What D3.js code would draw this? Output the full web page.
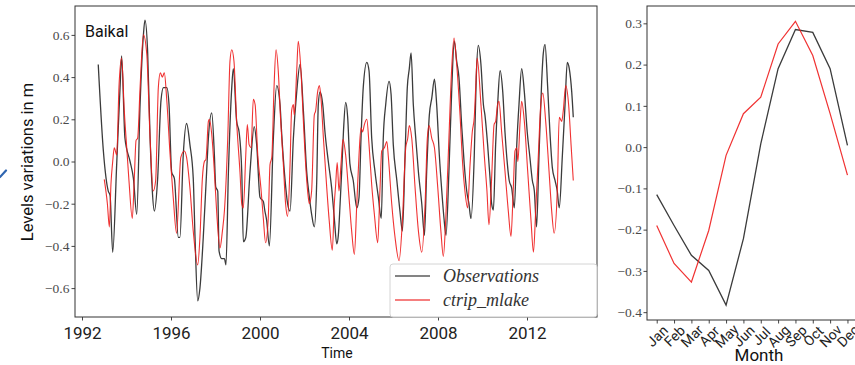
<!DOCTYPE html>
<html>
<head>
<meta charset="utf-8">
<script src="https://cdn.jsdelivr.net/npm/d3@7"></script>
<style>
  html, body { margin: 0; padding: 0; background: #fff; }
  svg { display: block; }
</style>
</head>
<body>
<svg id="chart" width="855" height="365"></svg>
<script>
// Lake Baikal water level anomalies (m): observed vs. CTRIP-MLake simulation
const obsYears = [
  1992.73,1992.96,1993.18,1993.26,1993.38,1993.56,1993.71,1993.78,1993.93,1994.16,
  1994.31,1994.46,1994.61,1994.76,1994.83,1994.95,1995.06,1995.16,1995.25,1995.40,
  1995.55,1995.66,1995.81,1995.91,1996.03,1996.15,1996.33,1996.40,1996.55,1996.70,
  1996.85,1997.00,1997.08,1997.20,1997.30,1997.45,1997.60,1997.68,1997.83,1997.95,
  1998.01,1998.10,1998.16,1998.28,1998.40,1998.47,1998.58,1998.73,1998.80,1998.95,
  1999.06,1999.18,1999.25,1999.36,1999.55,1999.74,1999.85,2000.00,2000.15,2000.22,
  2000.30,2000.42,2000.60,2000.75,2000.90,2000.97,2001.12,2001.24,2001.35,2001.50,
  2001.65,2001.80,2001.95,2002.10,2002.22,2002.32,2002.44,2002.55,2002.62,2002.70,
  2002.82,2002.92,2003.07,2003.22,2003.34,2003.45,2003.52,2003.60,2003.67,2003.75,
  2003.85,2003.94,2004.04,2004.19,2004.35,2004.45,2004.54,2004.64,2004.80,2004.90,
  2005.02,2005.17,2005.32,2005.45,2005.54,2005.65,2005.80,2005.89,2005.99,2006.15,
  2006.29,2006.40,2006.52,2006.62,2006.71,2006.79,2006.89,2007.00,2007.12,2007.27,
  2007.39,2007.49,2007.61,2007.72,2007.84,2007.94,2008.06,2008.17,2008.27,2008.36,
  2008.49,2008.62,2008.73,2008.84,2008.94,2009.07,2009.18,2009.29,2009.39,2009.48,
  2009.63,2009.72,2009.81,2009.93,2010.04,2010.11,2010.23,2010.34,2010.41,2010.49,
  2010.59,2010.68,2010.79,2010.91,2011.01,2011.12,2011.20,2011.31,2011.43,2011.54,
  2011.64,2011.76,2011.88,2012.01,2012.13,2012.24,2012.33,2012.43,2012.54,2012.66,
  2012.73,2012.81,2012.93,2013.03,2013.14,2013.26,2013.36,2013.45,2013.59,2013.71,
  2013.81,2013.90,2014.01,2014.08
];
const obsLevels = [
  0.46,0.05,-0.14,-0.16,-0.43,-0.01,0.35,0.50,0.11,0.00,
  -0.08,-0.25,0.27,0.60,0.67,0.52,0.11,-0.14,-0.235,-0.08,
  0.29,0.35,0.35,0.27,-0.05,-0.08,-0.36,-0.36,0.03,0.18,
  0.08,-0.08,-0.36,-0.66,-0.60,-0.36,-0.05,0.11,0.23,0.03,
  -0.12,-0.14,-0.425,-0.46,-0.46,-0.49,-0.05,0.35,0.44,0.19,
  0.14,-0.05,-0.38,-0.36,-0.05,0.165,0.08,-0.17,-0.19,-0.235,
  -0.28,-0.40,0.11,0.36,0.27,0.14,-0.08,-0.20,-0.235,0.11,
  0.33,0.46,0.24,-0.05,-0.17,-0.25,-0.31,-0.09,0.27,0.33,
  0.27,0.14,0.00,-0.125,-0.27,-0.39,-0.35,-0.20,-0.05,0.14,
  0.28,0.21,-0.01,-0.09,-0.22,-0.17,0.11,0.35,0.47,0.43,
  0.11,-0.05,-0.17,-0.27,0.11,0.27,0.38,0.32,0.08,-0.09,
  -0.235,-0.33,0.03,0.35,0.44,0.515,0.27,0.11,-0.05,-0.20,
  -0.35,-0.05,0.22,0.30,0.39,0.27,0.03,-0.14,-0.27,-0.35,
  -0.05,0.35,0.57,0.475,0.40,0.16,-0.015,-0.14,-0.20,-0.27,
  0.03,0.40,0.55,0.46,0.27,0.22,0.08,-0.08,-0.20,-0.23,
  0.08,0.27,0.43,0.33,0.14,-0.015,-0.09,-0.125,-0.22,0.08,
  0.27,0.44,0.33,0.14,0.02,-0.09,-0.14,-0.31,0.03,0.38,
  0.51,0.555,0.35,0.14,-0.03,-0.09,-0.14,-0.22,0.03,0.27,
  0.47,0.44,0.33,0.21
];
const simYears = [
  1993.00,1993.14,1993.23,1993.30,1993.38,1993.45,1993.56,1993.66,1993.78,1993.90,
  1994.01,1994.11,1994.26,1994.35,1994.43,1994.50,1994.61,1994.76,1994.91,1995.06,
  1995.20,1995.31,1995.43,1995.52,1995.61,1995.70,1995.81,1995.96,1996.10,1996.25,
  1996.44,1996.60,1996.70,1996.85,1997.00,1997.20,1997.30,1997.41,1997.50,1997.57,
  1997.68,1997.72,1997.83,1997.95,1998.05,1998.20,1998.31,1998.40,1998.55,1998.65,
  1998.73,1998.83,1998.95,1999.10,1999.18,1999.25,1999.36,1999.43,1999.51,1999.60,
  1999.70,1999.78,1999.90,2000.04,2000.15,2000.25,2000.37,2000.45,2000.53,2000.63,
  2000.72,2000.82,2000.92,2001.05,2001.15,2001.24,2001.35,2001.42,2001.50,2001.54,
  2001.65,2001.72,2001.84,2001.95,2002.07,2002.17,2002.22,2002.32,2002.44,2002.50,
  2002.59,2002.67,2002.74,2002.85,2003.00,2003.11,2003.25,2003.34,2003.40,2003.47,
  2003.55,2003.64,2003.73,2003.85,2004.00,2004.12,2004.24,2004.35,2004.45,2004.54,
  2004.61,2004.69,2004.80,2004.90,2005.02,2005.14,2005.29,2005.39,2005.47,2005.59,
  2005.70,2005.77,2005.92,2006.07,2006.25,2006.40,2006.55,2006.64,2006.71,2006.82,
  2006.97,2007.12,2007.27,2007.42,2007.52,2007.60,2007.72,2007.84,2007.99,2008.13,
  2008.24,2008.35,2008.49,2008.61,2008.72,2008.84,2008.99,2009.11,2009.21,2009.33,
  2009.44,2009.54,2009.63,2009.70,2009.76,2009.93,2010.08,2010.20,2010.29,2010.41,
  2010.52,2010.59,2010.68,2010.74,2010.86,2011.01,2011.16,2011.28,2011.38,2011.46,
  2011.54,2011.59,2011.69,2011.76,2011.88,2012.03,2012.18,2012.29,2012.39,2012.51,
  2012.62,2012.71,2012.84,2012.99,2013.11,2013.22,2013.36,2013.45,2013.56,2013.63,
  2013.74,2013.87,2013.98,2014.08
];
const simLevels = [
  -0.085,-0.20,-0.31,-0.11,0.00,0.065,0.03,0.35,0.49,0.24,
  0.065,-0.09,-0.27,-0.08,0.10,0.11,0.35,0.60,0.51,0.11,
  -0.14,-0.09,0.35,0.42,0.40,0.42,0.29,0.03,-0.17,-0.34,
  0.02,0.05,0.02,-0.125,-0.33,-0.49,-0.36,-0.08,0.00,0.01,
  0.19,0.20,0.13,-0.05,-0.235,-0.41,-0.33,-0.235,0.11,0.475,
  0.53,0.475,0.19,-0.05,-0.20,-0.22,0.03,0.175,0.08,0.065,
  0.295,0.27,0.03,-0.125,-0.27,-0.385,-0.27,-0.015,0.02,0.35,
  0.53,0.43,0.21,-0.015,-0.20,-0.26,-0.015,0.24,0.27,0.22,
  0.43,0.57,0.43,0.19,-0.045,-0.17,-0.20,-0.14,0.22,0.24,
  0.33,0.36,0.30,0.11,-0.125,-0.28,-0.42,-0.20,-0.11,-0.005,
  -0.14,-0.015,0.105,0.03,-0.17,-0.33,-0.44,-0.20,0.03,0.16,
  0.14,0.175,0.20,0.08,-0.11,-0.25,-0.385,-0.14,0.05,0.065,
  0.095,0.02,-0.20,-0.36,-0.47,-0.28,0.065,0.11,0.17,0.11,
  -0.125,-0.33,-0.43,-0.20,0.11,0.17,0.11,0.065,-0.125,-0.33,
  -0.45,-0.27,0.11,0.43,0.585,0.46,0.22,-0.015,-0.14,-0.22,
  -0.015,0.14,0.21,0.365,0.49,0.27,0.03,-0.14,-0.30,-0.08,
  0.175,0.19,0.27,0.285,0.14,-0.045,-0.235,-0.355,-0.14,0.05,
  0.065,0.00,0.19,0.285,0.19,-0.045,-0.28,-0.43,-0.235,0.03,
  0.27,0.325,0.19,-0.045,-0.235,-0.34,-0.14,0.21,0.19,0.24,
  0.36,0.27,0.08,-0.09
];

// Mean seasonal cycle (m)
const months = ["Jan","Feb","Mar","Apr","May","Jun","Jul","Aug","Sep","Oct","Nov","Dec"];
const obsMonthly = [-0.115,-0.19,-0.262,-0.299,-0.383,-0.222,0.008,0.19,0.285,0.278,0.19,0.004];
const simMonthly = [-0.19,-0.282,-0.327,-0.202,-0.02,0.081,0.121,0.25,0.305,0.222,0.081,-0.068];

// Axis ticks
const yearTicks = [1992,1996,2000,2004,2008,2012];
const levelTicks = [-0.6,-0.4,-0.2,0.0,0.2,0.4,0.6];
const monthlyTicks = [-0.4,-0.3,-0.2,-0.1,0.0,0.1,0.2,0.3];

const OBS_COLOR = "#262626";
const SIM_COLOR = "#ee1c1c";
const SERIF = "'Liberation Serif','DejaVu Serif',serif";
const SANS = "Roboto,'Open Sans',sans-serif";

const svg = d3.select("#chart");
const fmt = d3.format(".1f");

// ---------- left panel: time series ----------
const L = {x0: 75, x1: 597, y0: 6, y1: 317};
const xL = d3.scaleLinear().domain([1991.685, 2015.146]).range([L.x0, L.x1]);
const yL = d3.scaleLinear().domain([-0.737, 0.737]).range([L.y1, L.y0]);

const left = svg.append("g");

const lineL = d3.line().curve(d3.curveMonotoneX).x(d => xL(d[0])).y(d => yL(d[1]));
const obsSeries = obsYears.map((t, i) => [t, obsLevels[i]]);
const simSeries = simYears.map((t, i) => [t, simLevels[i]]);

left.append("path").datum(obsSeries)
  .attr("d", lineL).attr("fill", "none")
  .attr("stroke", OBS_COLOR).attr("stroke-width", 1.3).attr("stroke-linejoin", "round")
  .attr("opacity", 0.9);
left.append("path").datum(simSeries)
  .attr("d", lineL).attr("fill", "none")
  .attr("stroke", SIM_COLOR).attr("stroke-width", 1.1).attr("stroke-linejoin", "round")
  .attr("opacity", 0.9);

// axes
const axYL = left.append("g").attr("transform", `translate(${L.x0},0)`)
  .call(d3.axisLeft(yL).tickValues(levelTicks).tickFormat(fmt).tickSize(3.5).tickPadding(2).tickSizeOuter(0));
axYL.select(".domain").remove();
axYL.selectAll("line").attr("stroke", "#444");
axYL.selectAll("text").attr("font-family", SERIF).attr("font-size", 13.5).attr("fill", "#4a4a4a");

const axXL = left.append("g").attr("transform", `translate(0,${L.y1})`)
  .call(d3.axisBottom(xL).tickValues(yearTicks).tickFormat(d3.format("d")).tickSize(3.5).tickPadding(6).tickSizeOuter(0));
axXL.select(".domain").remove();
axXL.selectAll("line").attr("stroke", "#444");
axXL.selectAll("text").attr("font-family", SANS).attr("font-size", 17).attr("fill", "#222");

left.append("rect")
  .attr("x", L.x0).attr("y", L.y0).attr("width", L.x1 - L.x0).attr("height", L.y1 - L.y0)
  .attr("fill", "none").attr("stroke", "#333").attr("stroke-width", 1);

left.append("text").attr("x", 85).attr("y", 37)
  .attr("font-family", SANS).attr("font-size", 16).attr("fill", "#111").text("Baikal");

left.append("text").attr("transform", "translate(33,162) rotate(-90)")
  .attr("text-anchor", "middle").attr("font-family", SANS).attr("font-size", 16.5)
  .attr("fill", "#111").text("Levels variations in m");

left.append("text").attr("x", 337).attr("y", 358).attr("text-anchor", "middle")
  .attr("font-family", SANS).attr("font-size", 14).attr("fill", "#111").text("Time");

// legend
const lg = left.append("g");
lg.append("rect").attr("x", 390).attr("y", 264).attr("width", 207).attr("height", 53)
  .attr("rx", 3).attr("fill", "#fff").attr("fill-opacity", 0.85)
  .attr("stroke", "#d4d4d4").attr("stroke-width", 1);
const legendItems = [
  {label: "Observations", color: OBS_COLOR, y: 276},
  {label: "ctrip_mlake", color: SIM_COLOR, y: 300}
];
legendItems.forEach(it => {
  lg.append("line").attr("x1", 395).attr("x2", 430).attr("y1", it.y).attr("y2", it.y)
    .attr("stroke", it.color).attr("stroke-width", 1.4).attr("opacity", 0.75);
  lg.append("text").attr("x", 443).attr("y", it.y + 6)
    .attr("font-family", SERIF).attr("font-style", "italic").attr("font-size", 18)
    .attr("fill", "#333").text(it.label);
});

// ---------- right panel: seasonal cycle ----------
const R = {x0: 647, x1: 857, y0: 6, y1: 320};
const xR = d3.scaleLinear().domain([-0.56, 11.55]).range([R.x0, R.x1]);
const yR = d3.scaleLinear().domain([-0.419, 0.342]).range([R.y1, R.y0]);

const right = svg.append("g");
const lineR = d3.line().x((d, i) => xR(i)).y(d => yR(d));

right.append("path").datum(obsMonthly).attr("d", lineR).attr("fill", "none")
  .attr("stroke", OBS_COLOR).attr("stroke-width", 1.3).attr("opacity", 0.9);
right.append("path").datum(simMonthly).attr("d", lineR).attr("fill", "none")
  .attr("stroke", SIM_COLOR).attr("stroke-width", 1.2).attr("opacity", 0.9);

const axYR = right.append("g").attr("transform", `translate(${R.x0},0)`)
  .call(d3.axisLeft(yR).tickValues(monthlyTicks).tickFormat(fmt).tickSize(3.5).tickPadding(1.5).tickSizeOuter(0));
axYR.select(".domain").remove();
axYR.selectAll("line").attr("stroke", "#444");
axYR.selectAll("text").attr("font-family", SERIF).attr("font-size", 13.5).attr("fill", "#4a4a4a");

const axXR = right.append("g").attr("transform", `translate(0,${R.y1})`)
  .call(d3.axisBottom(xR).tickValues(d3.range(12)).tickFormat(i => months[i]).tickSize(3.5).tickSizeOuter(0));
axXR.select(".domain").remove();
axXR.selectAll("line").attr("stroke", "#444");
axXR.selectAll("text")
  .attr("y", 0).attr("dy", 0)
  .attr("text-anchor", "middle").attr("dominant-baseline", "central")
  .attr("transform", "translate(0,16) rotate(-45)")
  .attr("font-family", SANS).attr("font-size", 14).attr("fill", "#222");

right.append("rect")
  .attr("x", R.x0).attr("y", R.y0).attr("width", R.x1 - R.x0).attr("height", R.y1 - R.y0)
  .attr("fill", "none").attr("stroke", "#333").attr("stroke-width", 1);

right.append("text").attr("x", 759).attr("y", 361).attr("text-anchor", "middle")
  .attr("font-family", SANS).attr("font-size", 17).attr("fill", "#111").text("Month");

// edge of the neighbouring figure's arrow
svg.append("line").attr("x1", 0).attr("y1", 177).attr("x2", 6).attr("y2", 170.5)
  .attr("stroke", "#2f65b0").attr("stroke-width", 2.2).attr("stroke-linecap", "round");
</script>
</body>
</html>
